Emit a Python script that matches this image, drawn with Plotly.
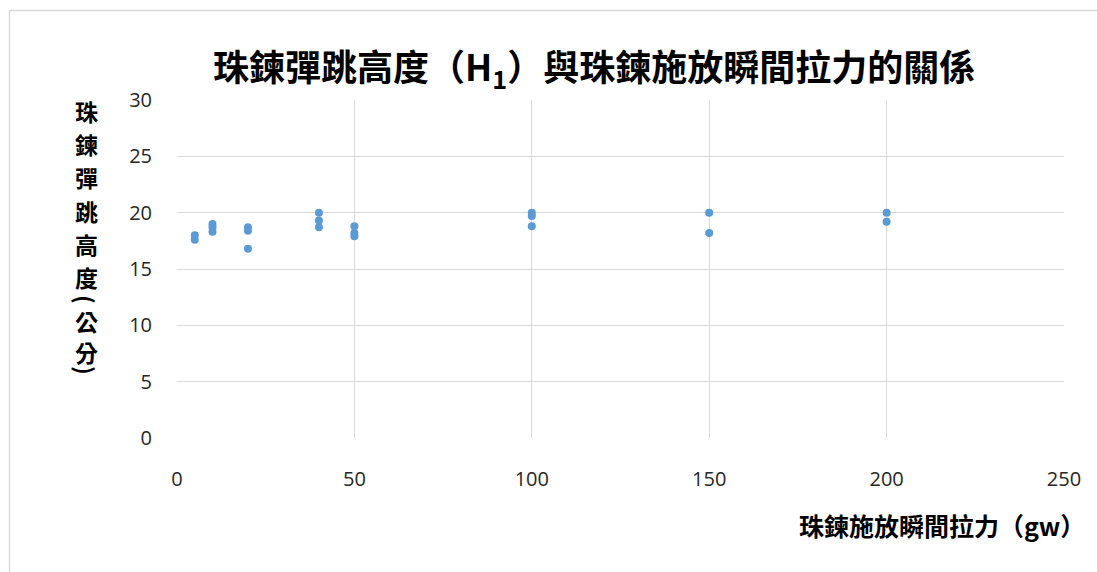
import plotly.graph_objects as go

# Pull force at release (gw) and measured bounce height H1 (cm)
pull_force = [5, 5, 10, 10, 10, 20, 20, 20, 40, 40, 40, 50, 50, 50,
              100, 100, 100, 150, 150, 200, 200]
bounce_height = [18.0, 17.6, 19.0, 18.7, 18.3, 18.7, 18.4, 16.8, 20.0, 19.3, 18.7,
                 18.8, 18.2, 17.9, 20.0, 19.7, 18.8, 20.0, 18.2, 20.0, 19.2]

x_ticks = [0, 50, 100, 150, 200, 250]
y_ticks = [0, 5, 10, 15, 20, 25, 30]

title_text = "珠鍊彈跳高度（H<sub>1</sub>）與珠鍊施放瞬間拉力的關係"
x_title = "珠鍊施放瞬間拉力（gw）"
# vertical y-axis title, one glyph per row; brackets are turned sideways
y_title_chars = ["珠", "鍊", "彈", "跳", "高", "度", "(", "公", "分", ")"]

W, H = 1097, 572
L, R, T, B = 177, 1064, 100, 438
CJK = "Noto Sans CJK TC"


def px(x):
    return (x - L) / (R - L)


def py(y):
    return (B - y) / (B - T)


fig = go.Figure()
fig.add_trace(go.Scatter(
    x=pull_force, y=bounce_height, mode="markers",
    marker=dict(color="#5B9BD5", size=8, line=dict(width=0)),
    showlegend=False, hoverinfo="x+y",
))

axis_common = dict(
    showgrid=True, gridcolor="#D9D9D9", gridwidth=1,
    zeroline=False, showline=False, ticks="",
    tickfont=dict(family="Open Sans", size=20, color="#262626"),
)

fig.update_xaxes(range=[0, 250], tickvals=x_ticks, ticktext=[str(v) for v in x_ticks],
                 ticklabelstandoff=27, **axis_common)
fig.update_yaxes(range=[0, 30], tickvals=y_ticks, ticktext=[str(v) for v in y_ticks],
                 ticklabelstandoff=24, **axis_common)

annotations = [
    dict(text=title_text, xref="paper", yref="paper", x=px(594), y=py(68),
         xanchor="center", yanchor="middle", showarrow=False,
         font=dict(family=CJK, size=36, color="#000000", weight="bold")),
    dict(text=x_title, xref="paper", yref="paper", x=px(1087), y=py(525),
         xanchor="right", yanchor="middle", showarrow=False,
         font=dict(family=CJK, size=25, color="#000000", weight="bold")),
]
y_char_pos = [111, 144, 177, 211, 244, 277, 299, 321, 352, 370]
for ch, yy in zip(y_title_chars, y_char_pos):
    annotations.append(dict(
        text=ch, xref="paper", yref="paper", x=px(86), y=py(yy),
        xanchor="center", yanchor="middle", showarrow=False,
        textangle=90 if ch in "()" else 0,
        font=dict(family=CJK, size=23, color="#000000", weight="bold"),
    ))

fig.update_layout(
    width=W, height=H,
    margin=dict(l=L, r=W - R, t=T, b=H - B, pad=0),
    paper_bgcolor="white", plot_bgcolor="white",
    annotations=annotations,
    shapes=[dict(type="rect", xref="paper", yref="paper",
                 x0=px(9.5), y0=py(H + 20), x1=px(W + 20), y1=py(10.5),
                 line=dict(color="#D9D9D9", width=1.5), layer="below")],
)

fig.write_html("out.html")
